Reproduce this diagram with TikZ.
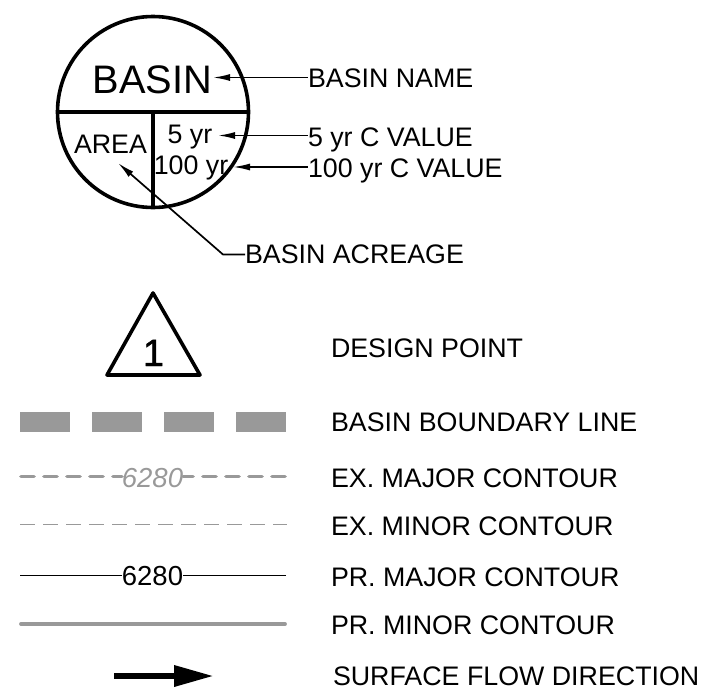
\documentclass[tikz,border=0pt]{standalone}
\usepackage{fontspec}
\setmainfont{Liberation Sans}
\newfontfamily\onefont[FakeBold=1.2]{Liberation Sans}
\usetikzlibrary{arrows.meta}
\definecolor{lg}{HTML}{999999}
\newcommand{\fs}[1]{\fontsize{#1}{#1}\selectfont}
\tikzset{
  x=1pt,y=-1pt,
  lbl/.style={anchor=base west,inner sep=0pt,outer sep=0pt,font=\fs{26.8}},
  mid/.style={anchor=base,inner sep=0pt,outer sep=0pt},
  thick3/.style={line width=3.6pt},
  leader/.style={line width=1.7pt,{Latex[length=17pt,width=7pt]}-},
  bnd/.style={fill=lg,draw=none,minimum width=50pt,minimum height=20pt,inner sep=0pt,anchor=north west},
  exmaj/.style={draw=lg,line width=3.8pt,line cap=round,dash pattern=on 13pt off 10pt},
  exmin/.style={draw=lg,line width=1.7pt,dash pattern=on 15pt off 8pt},
}
\begin{document}
\begin{tikzpicture}
\useasboundingbox (0,0) rectangle (726,696);
% basin symbol
\coordinate (c) at (153,112);
\node[draw,thick3,circle,minimum size=191pt,inner sep=0pt] (circ) at (c) {};
\draw[thick3] (circ.west) -- (circ.east);
\draw[thick3] (c) -- (circ.south);
\node[mid,font=\fs{39.8}] (basin) at (152.5,93) {BASIN};
\node[mid,font=\fs{26.8}] (area) at (110.5,153) {AREA};
\node[mid,font=\fs{26.8}] (five) at (190,143) {5 yr};
\node[mid,font=\fs{26.8}] (hund) at (191,174) {100 yr};
% labels
\node[lbl] (lname) at (308,87) {BASIN NAME};
\node[lbl] (lfive) at (308,146) {5 yr C VALUE};
\node[lbl] (lhund) at (308,177) {100 yr C VALUE};
\node[lbl] (lacre) at (245,263.5) {BASIN ACREAGE};
% leaders
\coordinate (tname) at (213,77.5);
\coordinate (tfive) at (218,135.5);
\coordinate (thund) at (233,167);
\coordinate (tarea) at (118,163);
\coordinate (elbow) at (223,254.5);
\draw[leader] (tname) -- (tname -| lname.west);
\draw[leader] (tfive) -- (tfive -| lfive.west);
\draw[leader] (thund) -- (thund -| lhund.west);
\draw[leader] (tarea) -- (elbow) -- (elbow -| lacre.west);
% design point
\coordinate (ta) at (153,293);
\coordinate (tb) at (107,375);
\coordinate (tc) at (200,375);
\draw[thick3,line join=round] (ta) -- (tb) -- (tc) -- cycle;
\node[mid,font=\onefont\fs{38}] (one) at (153.5,366) {1};
\node[lbl] (ldp) at (331,357.5) {DESIGN POINT};
% boundary
\node[bnd] (b1) at (20,412) {};
\node[bnd] (b2) at (92,412) {};
\node[bnd] (b3) at (164,412) {};
\node[bnd] (b4) at (236,412) {};
\node[lbl] (lbb) at (331,431) {BASIN BOUNDARY LINE};
% ex major
\node[mid,font=\itshape\fs{27.5},text=lg] (em) at (152.5,487) {6280};
\coordinate (ema) at (21,476.5);
\coordinate (emb) at (285,476.5);
\draw[exmaj] (ema) -- (em.west |- ema);
\draw[exmaj] (emb) -- (em.east |- emb);
\node[lbl] (lem) at (331,487) {EX. MAJOR CONTOUR};
% ex minor
\coordinate (ena) at (20,524.5);
\coordinate (enb) at (287,524.5);
\draw[exmin] (ena) -- (enb);
\node[lbl] (len) at (331,535) {EX. MINOR CONTOUR};
% pr major
\node[mid,font=\fs{27.5}] (pm) at (152.5,585) {6280};
\coordinate (pma) at (20,575.5);
\coordinate (pmb) at (286,575.5);
\draw[line width=1.7pt] (pma) -- (pm.west |- pma);
\draw[line width=1.7pt] (pmb) -- (pm.east |- pmb);
\node[lbl] (lpm) at (331,586) {PR. MAJOR CONTOUR};
% pr minor
\coordinate (pna) at (21,624);
\coordinate (pnb) at (285,624);
\draw[draw=lg,line width=3.8pt,line cap=round] (pna) -- (pnb);
\node[lbl] (lpn) at (331,634) {PR. MINOR CONTOUR};
% flow arrow
\coordinate (fa) at (114,676);
\coordinate (fb) at (214,676);
\draw[line width=6.5pt,-{Triangle[length=40pt,width=20pt]}] (fa) -- (fb);
\node[lbl] (lsf) at (333,685) {SURFACE FLOW DIRECTION};
\end{tikzpicture}
\end{document}
